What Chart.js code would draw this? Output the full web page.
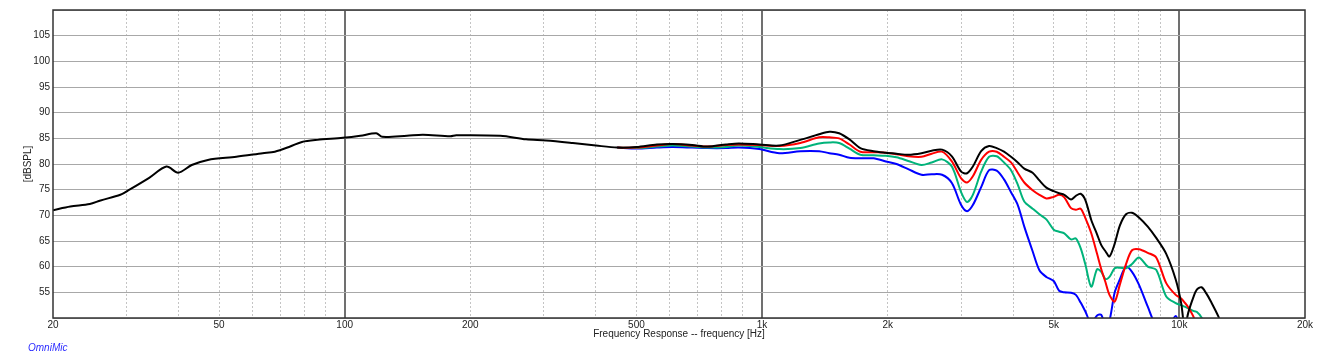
<!DOCTYPE html>
<html>
<head>
<meta charset="utf-8">
<script src="https://cdn.jsdelivr.net/npm/chart.js@4"></script>
<style>
  body { margin: 0; background: #fff; }
  #wrap { position: relative; width: 1317px; height: 362px; }
  #brand { position: absolute; left: 28px; top: 342px; font: italic 10px "Liberation Sans", Arial, sans-serif; color: #2b2bff; }
</style>
</head>
<body>
<div id="wrap">
  <canvas id="fr"></canvas>
  <div id="brand">OmniMic</div>
</div>
<script>
const ctx = document.getElementById('fr').getContext('2d');

// frequencies [Hz] - low part only the black curve, then all four
const freqs = [
  20, 22, 24.5, 26, 29, 30.5, 34, 37.4, 39.9, 43, 47, 55, 63.6, 68, 74, 79, 86, 99,
  109, 119, 123, 141, 154, 179, 185, 236, 272, 304, 352, 400,
  450, 500, 560, 610, 680, 740, 820, 880, 985, 1100, 1235, 1370, 1450, 1530, 1620, 1720,
  1850, 1980, 2100, 2240, 2410, 2550, 2700, 2850, 3000, 3100, 3200, 3350, 3500, 3650,
  3800, 3950, 4100, 4250, 4450, 4620, 4800, 5000, 5150, 5300, 5500, 5650, 5800, 5950,
  6150, 6350, 6500, 6650, 6800, 7000, 7200, 7450, 7700, 8000, 8400, 8800, 9300, 9800,
  10100, 10300, 10500, 10800, 11000, 11300, 11600, 11900, 12400, 13000
];

const lowGap = new Array(30).fill(null);

const black = [
  71.0, 71.7, 72.2, 72.9, 74.0, 75.0, 77.3, 79.5, 78.3, 79.8, 80.8, 81.4, 82.1, 82.4, 83.4, 84.3, 84.7, 85.1,
  85.5, 86.0, 85.3, 85.5, 85.7, 85.4, 85.6, 85.5, 84.8, 84.6, 84.1, 83.6,
  83.2, 83.3, 83.8, 83.9, 83.7, 83.4, 83.8, 84.0, 83.8, 83.6, 84.7, 85.8, 86.3, 86.0, 84.8, 83.1,
  82.5, 82.2, 82.0, 81.8, 82.1, 82.6, 82.8, 81.5, 78.5, 78.2, 79.5, 82.5, 83.5, 83.1,
  82.4, 81.4, 80.3, 79.1, 78.3, 76.8, 75.4, 74.7, 74.3, 74.0, 73.1, 73.8, 74.2, 73.0,
  69.1, 66.3, 64.2, 63.0, 62.0, 64.5, 68.0, 70.2, 70.5, 69.6, 67.8, 65.6, 62.5, 57.5,
  52.9, 48.0, 51.0, 54.0, 55.5, 56.0, 54.8, 53.2, 50.3, 46.0
];

const red = lowGap.concat([
  83.2, 83.2, 83.6, 83.9, 83.6, 83.4, 83.7, 83.8, 83.7, 83.5, 84.1, 85.2, 85.2, 85.0, 83.8, 82.4,
  82.3, 82.2, 81.9, 81.5, 81.4, 82.0, 82.4, 80.5, 77.2, 76.4, 77.6, 80.8, 82.4, 82.4,
  81.4, 80.3, 78.3, 76.4, 74.9, 74.0, 73.3, 73.6, 74.0, 73.5, 71.4, 71.1, 71.3, 69.5,
  66.5, 62.5, 59.5, 57.0, 54.5, 53.2, 56.5, 60.5, 63.2, 63.4, 62.7, 61.8, 56.8, 54.5,
  53.8, 53.0, 52.1, 50.3, 48.0, null, null, null, null, null
]);

const green = lowGap.concat([
  83.2, 83.1, 83.4, 83.6, 83.4, 83.2, 83.3, 83.6, 83.3, 82.9, 83.1, 84.0, 84.2, 84.1, 83.0, 81.8,
  81.7, 81.6, 81.3, 80.6, 79.8, 80.3, 80.9, 79.5, 74.5, 72.6, 74.0, 78.5, 81.4, 81.5,
  80.3, 78.8, 76.0, 72.7, 71.3, 70.2, 69.2, 67.2, 66.8, 66.5, 65.3, 65.5, 63.6, 60.5,
  56.1, 59.5, 59.0, 57.6, 58.0, 59.7, 59.8, 59.7, 60.5, 61.8, 60.0, 59.4, 54.2, 52.9,
  52.5, 52.2, 51.9, 51.4, 51.2, 50.1, 48.0, null, null, null
]);

const blue = lowGap.concat([
  83.2, 83.0, 83.2, 83.3, 83.2, 83.1, 83.1, 83.2, 82.9, 82.1, 82.5, 82.5, 82.1, 81.8, 81.2, 81.1,
  81.1, 80.5, 80.0, 79.0, 77.9, 78.0, 77.9, 76.3, 72.0, 70.8, 72.0, 75.5, 78.8, 78.7,
  77.0, 74.5, 72.0, 67.8, 63.0, 59.3, 58.0, 57.2, 55.3, 55.0, 54.9, 54.5, 53.0, 51.3,
  49.0, 50.5, 50.6, 48.5, 49.5, 55.0, 57.5, 60.0, 59.0, 56.5, 52.2, 48.5, 47.5, 50.4,
  47.0, null, null, null, null, null, null, null, null, null
]);

const majorTicks = [20, 50, 100, 200, 500, 1000, 2000, 5000, 10000, 20000];
const tickLabels = ['20', '50', '100', '200', '500', '1k', '2k', '5k', '10k', '20k'];
const minorTicks = [30, 40, 50, 60, 70, 80, 90, 200, 300, 400, 500, 600, 700, 800, 900,
  2000, 3000, 4000, 5000, 6000, 7000, 8000, 9000];
const decades = [100, 1000, 10000];

const font = { family: '"Liberation Sans", Arial, sans-serif', size: 10 };

function series(vals, color, w) {
  return {
    data: freqs.map((f, i) => ({ x: f, y: vals[i] })),
    borderColor: color,
    borderWidth: w,
    pointRadius: 0,
    tension: 0.3,
    fill: false,
  };
}

const frame = {
  id: 'frame',
  afterDraw(chart) {
    const a = chart.chartArea;
    const c = chart.ctx;
    c.save();
    c.strokeStyle = '#333';
    c.lineWidth = 1.5;
    c.strokeRect(a.left, a.top, a.right - a.left, a.bottom - a.top);
    c.restore();
  }
};

const myChart = new Chart(ctx, {
  type: 'line',
  data: {
    datasets: [
      series(black, '#000000', 2),
      series(red, '#ff0000', 2),
      series(green, '#00b37a', 2),
      series(blue, '#0000ff', 2),
    ]
  },
  options: {
    responsive: true,
    maintainAspectRatio: false,
    animation: false,
    layout: { padding: { top: 10, right: 12, left: 22, bottom: 22 } },
    plugins: { legend: { display: false }, tooltip: { enabled: false } },
    scales: {
      x: {
        type: 'logarithmic',
        min: 20,
        max: 20000,
        afterBuildTicks: (s) => { s.ticks = majorTicks.map(v => ({ value: v })); },
        afterFit: (s) => { s.height = 22; },
        ticks: {
          font: font,
          color: '#222',
          padding: 1,
          maxRotation: 0,
          autoSkip: false,
          callback: (v) => tickLabels[majorTicks.indexOf(v)] ?? '',
        },
        grid: {
          drawTicks: false,
          color: (c) => decades.includes(c.tick && c.tick.value) ? '#707070' : 'rgba(0,0,0,0)',
          lineWidth: (c) => decades.includes(c.tick && c.tick.value) ? 2 : 0,
        },
        border: { display: false },
        title: {
          display: true,
          text: 'Frequency Response -- frequency [Hz]',
          font: font,
          color: '#222',
          padding: { top: 0, bottom: 0 },
        },
      },
      xMinor: {
        type: 'logarithmic',
        position: 'top',
        min: 20,
        max: 20000,
        afterBuildTicks: (s) => { s.ticks = minorTicks.map(v => ({ value: v })); },
        afterFit: (s) => { s.height = 0; },
        ticks: { display: false },
        grid: { drawTicks: false, color: '#c4c4c4', lineWidth: 1 },
        border: { display: false, dash: [2, 2] },
      },
      y: {
        min: 50,
        max: 110,
        afterFit: (s) => { s.width = 31; },
        ticks: {
          stepSize: 5,
          font: font,
          color: '#222',
          padding: 3,
          callback: (v) => (v > 50 && v < 110) ? String(v) : '',
        },
        grid: { drawTicks: false, color: '#a8a8a8', lineWidth: 1 },
        border: { display: false },
        title: {
          display: true,
          text: '[dBSPL]',
          font: font,
          color: '#222',
          padding: { top: 0, bottom: 0 },
        },
      },
    },
  },
  plugins: [frame],
});
</script>
</body>
</html>
